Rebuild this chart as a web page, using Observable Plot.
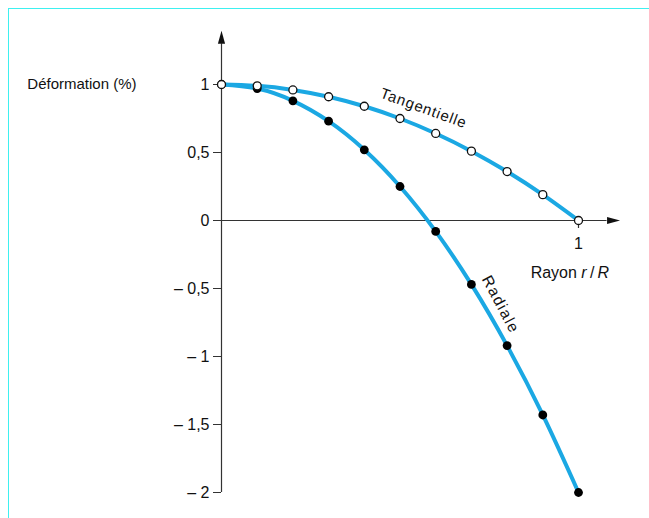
<!DOCTYPE html>
<html><head><meta charset="utf-8">
<script src="https://cdn.jsdelivr.net/npm/d3@7"></script>
<script src="https://cdn.jsdelivr.net/npm/@observablehq/plot@0.6"></script>
<style>
body{margin:0;background:#fff;}
#wrap{position:relative;width:649px;height:518px;overflow:hidden;}
#border{position:absolute;left:7.5px;top:7.5px;right:-10px;bottom:-10px;border-left:1.6px solid #3ef0f0;border-top:1.6px solid #3ef0f0;pointer-events:none;}
</style></head><body><div id="wrap"></div>
<script>
// Data
const rayon = [0, 0.1, 0.2, 0.3, 0.4, 0.5, 0.6, 0.7, 0.8, 0.9, 1];
const tangentielle = [1, 0.99, 0.96, 0.91, 0.84, 0.75, 0.64, 0.51, 0.36, 0.19, 0];
const radiale = [1, 0.97, 0.88, 0.73, 0.52, 0.25, -0.08, -0.47, -0.92, -1.43, -2];
const yTicks = [1, 0.5, 0, -0.5, -1, -1.5, -2];
const xTicks = [1];
const yAxisTop = 1.30;
const xAxisEnd = 1.08;

const tData = rayon.map((r, i) => ({r, v: tangentielle[i]}));
const rData = rayon.map((r, i) => ({r, v: radiale[i]}));

const blue = "#1ba8e3";
const ink = "#111";

const arrowUp = {draw(c) { c.moveTo(0, -13); c.lineTo(3.6, 0); c.lineTo(-3.6, 0); c.closePath(); }};
const arrowRight = {draw(c) { c.moveTo(13, 0); c.lineTo(0, -3.6); c.lineTo(0, 3.6); c.closePath(); }};

const fmt = d => (d < 0 ? "\u2013 " : "") + String(Math.abs(d)).replace(".", ",");

const chart = Plot.plot({
  width: 649,
  height: 518,
  marginLeft: 221,
  marginRight: 71,
  marginTop: 84,
  marginBottom: 26,
  style: {fontFamily: "'Liberation Sans', Arial, sans-serif", fontSize: "15px", color: ink, background: "transparent"},
  x: {domain: [0, 1], axis: null},
  y: {domain: [-2, 1], axis: null},
  marks: [
    // axes
    Plot.ruleX([0], {y1: -2, y2: yAxisTop, stroke: "#333", strokeWidth: 1.2}),
    Plot.ruleY([0], {x1: 0, x2: xAxisEnd, stroke: "#333", strokeWidth: 1.2}),
    Plot.dot([0], {x: d => d, y: yAxisTop, symbol: arrowUp, fill: "#111", stroke: null}),
    Plot.dot([0], {x: xAxisEnd, y: d => d, symbol: arrowRight, fill: "#111", stroke: null}),
    Plot.axisY({ticks: yTicks, tickFormat: fmt, tickSize: 8, tickPadding: 4, stroke: "#333", fill: ink, label: null, fontSize: 16}),
    Plot.ruleX(xTicks, {x: d => d, y1: 0, y2: 0, insetTop: 0, insetBottom: -8, stroke: "#333", strokeWidth: 1.2}),
    Plot.text(xTicks, {x: d => d, y: 0, text: d => fmt(d), dy: 23, fill: ink, fontSize: 16}),
    // curves
    Plot.line(tData, {x: "r", y: "v", curve: "natural", stroke: blue, strokeWidth: 4}),
    Plot.line(rData, {x: "r", y: "v", curve: "natural", stroke: blue, strokeWidth: 4}),
    Plot.dot(rData, {x: "r", y: "v", r: 4.4, fill: "#000", stroke: null}),
    Plot.dot(tData, {x: "r", y: "v", r: 4, fill: "#fff", stroke: "#111", strokeWidth: 1.3}),
    // labels
    Plot.text(["Tangentielle"], {x: 0.566, y: 0.825, text: d => d, rotate: 20, fill: ink, fontSize: 15, className: "lbl-t"}),
    Plot.text(["Radiale"], {x: 0.782, y: -0.618, text: d => d, rotate: 62, fill: ink, fontSize: 15.5, className: "lbl-r"}),
    Plot.text(["Rayon r/R"], {x: 0.866, y: -0.382, text: d => d, textAnchor: "start", fill: ink, fontSize: 16}),
    Plot.text(["Déformation (%)"], {x: -0.238, y: 1, text: d => d, textAnchor: "end", fill: ink, fontSize: 15})
  ]
});

const wrap = document.getElementById("wrap");
wrap.appendChild(chart);
const b = document.createElement("div");
b.id = "border";
wrap.appendChild(b);

d3.select(chart).selectAll("text").each(function() {
  const s = this.textContent;
  if (s === "Rayon r/R") {
    this.textContent = "";
    const t = d3.select(this);
    t.append("tspan").text("Rayon ");
    t.append("tspan").attr("font-style", "italic").text("r");
    t.append("tspan").text("\u2009/\u2009");
    t.append("tspan").attr("font-style", "italic").text("R");
  } else if (s === "Tangentielle") {
    this.style.letterSpacing = "0.9px";
  } else if (s === "Radiale") {
    this.style.letterSpacing = "1.5px";
  }
});
</script>
</body></html>
